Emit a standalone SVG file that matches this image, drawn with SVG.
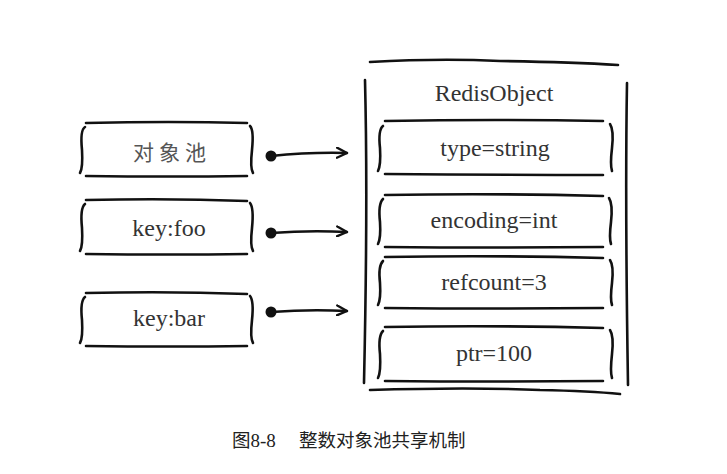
<svg xmlns="http://www.w3.org/2000/svg" width="727" height="474" viewBox="0 0 727 474">
<defs>
<style>
.s{fill:none;stroke:#111;stroke-width:2.6;stroke-linecap:round;stroke-linejoin:round}
.t{font-size:24px;fill:#333;text-anchor:middle;dominant-baseline:central}
.c{font-size:21px;fill:#555;text-anchor:middle;dominant-baseline:central;letter-spacing:5px}
</style>
<marker id="ah" viewBox="0 0 12 12" refX="11" refY="6" markerWidth="12" markerHeight="12" markerUnits="userSpaceOnUse" orient="auto">
<path d="M1,1 L11,6 L1,11" fill="none" stroke="#111" stroke-width="2.4" stroke-linecap="round" stroke-linejoin="round"/>
</marker>
</defs>
<rect width="727" height="474" fill="#fff"/>
<g id="pool">
<path class="s" d="M86,123 Q170,121 247,123"/>
<path class="s" d="M86,176 Q170,177 247,176"/>
<path class="s" d="M85,127 Q80,130 82,150 Q83,168 80,173"/>
<path class="s" d="M250,126 Q254,130 252,150 Q250,168 253,173"/>
<text class="c" font-family="Noto Sans CJK SC, sans-serif" x="172" y="151">对象池</text>
</g>
<g id="keyfoo" font-family="Liberation Serif, DejaVu Serif, serif">
<path class="s" d="M86,200 Q170,198 247,201"/>
<path class="s" d="M86,254 Q170,255 247,254"/>
<path class="s" d="M85,204 Q80,208 82,228 Q83,246 80,251"/>
<path class="s" d="M250,203 Q254,208 252,228 Q250,246 253,251"/>
<text class="t" x="169" y="228">key:foo</text>
</g>
<g id="keybar" font-family="Liberation Serif, DejaVu Serif, serif">
<path class="s" d="M86,293 Q170,291 247,294"/>
<path class="s" d="M86,346 Q170,347 247,346"/>
<path class="s" d="M85,297 Q80,301 82,320 Q83,338 80,343"/>
<path class="s" d="M250,296 Q254,301 252,320 Q250,338 253,343"/>
<text class="t" x="169" y="318">key:bar</text>
</g>
<g id="redisobject" font-family="Liberation Serif, DejaVu Serif, serif">
<path class="s" d="M370,62 Q440,58 500,61 Q570,62 618,65"/>
<path class="s" d="M365,80 Q368,200 364,383"/>
<path class="s" d="M627,83 Q625,200 628,385"/>
<path class="s" d="M370,390 Q470,387 540,390 Q590,391 620,394"/>
<text class="t" x="494" y="93">RedisObject</text>
</g>
<g id="type" font-family="Liberation Serif, DejaVu Serif, serif">
<path class="s" d="M385,121 Q495,119 603,121"/>
<path class="s" d="M385,174 Q495,175 603,175"/>
<path class="s" d="M383,126 Q378,130 380,148 Q381,165 378,171"/>
<path class="s" d="M610,124 Q614,130 612,148 Q610,165 612,171"/>
<text class="t" x="495" y="148">type=string</text>
</g>
<g id="encoding" font-family="Liberation Serif, DejaVu Serif, serif">
<path class="s" d="M385,195 Q495,193 603,196"/>
<path class="s" d="M385,247 Q495,248 603,247"/>
<path class="s" d="M383,199 Q378,204 380,222 Q381,238 378,244"/>
<path class="s" d="M609,198 Q613,204 611,222 Q609,238 611,244"/>
<text class="t" x="494" y="220">encoding=int</text>
</g>
<g id="refcount" font-family="Liberation Serif, DejaVu Serif, serif">
<path class="s" d="M385,257 Q495,255 603,258"/>
<path class="s" d="M385,308 Q495,309 603,308"/>
<path class="s" d="M383,261 Q378,266 380,283 Q381,299 378,305"/>
<path class="s" d="M610,260 Q614,266 612,283 Q610,299 612,305"/>
<text class="t" x="494" y="282">refcount=3</text>
</g>
<g id="ptr" font-family="Liberation Serif, DejaVu Serif, serif">
<path class="s" d="M385,327 Q495,325 603,328"/>
<path class="s" d="M385,381 Q495,382 603,381"/>
<path class="s" d="M383,331 Q378,336 380,354 Q381,372 378,378"/>
<path class="s" d="M610,330 Q614,336 612,354 Q610,372 612,378"/>
<text class="t" x="494" y="353">ptr=100</text>
</g>
<g id="connectors">
<circle cx="271" cy="156" r="5.5" fill="#111"/>
<path class="s" d="M271,156 Q310,152 347,153" marker-end="url(#ah)"/>
<circle cx="271" cy="233" r="5.5" fill="#111"/>
<path class="s" d="M271,233 Q310,230 347,232" marker-end="url(#ah)"/>
<circle cx="271" cy="312" r="5.5" fill="#111"/>
<path class="s" d="M271,312 Q310,309 347,311" marker-end="url(#ah)"/>
</g>
<text x="232" y="447" fill="#222" font-size="18.5"><tspan font-family="Noto Sans CJK SC, sans-serif">图</tspan><tspan font-family="Liberation Serif, DejaVu Serif, serif" font-size="19">8-8</tspan><tspan font-family="Noto Sans CJK SC, sans-serif" x="299">整数对象池共享机制</tspan></text>
</svg>
